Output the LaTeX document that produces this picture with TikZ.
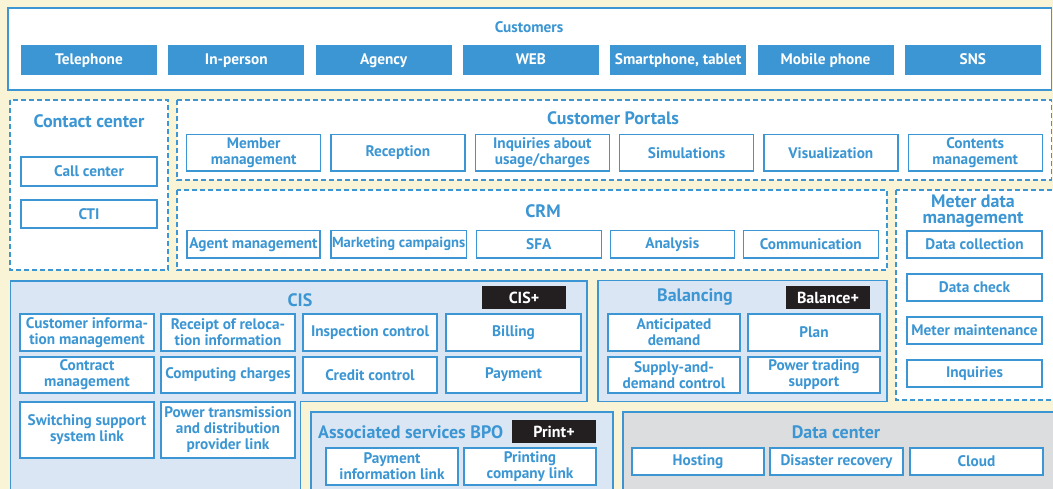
\documentclass[tikz,border=0pt]{standalone}
\usepackage{fontspec}
\setmainfont{PT Sans}
\usepackage{tikz}
\usepackage{xcolor}
\definecolor{cream}{RGB}{250,244,214}
\definecolor{line}{RGB}{59,150,211}
\definecolor{pale}{RGB}{219,230,244}
\definecolor{stone}{RGB}{220,221,223}
\definecolor{ink}{RGB}{35,31,32}
\usetikzlibrary{positioning}
\tikzstyle{Area} = [draw=line, line width=1.3pt]
\tikzstyle{Zone} = [Area, fill=white, dash pattern=on 5pt off 3pt]
\tikzstyle{Box} = [
draw=line, fill=white, line width=1.2pt, text=line,
align=center, inner sep=1pt, outer sep=0pt,
font=\fontsize{15.3}{16}\selectfont\bfseries]
\tikzstyle{Channel} = [
fill=line, text=white, minimum width=136pt, minimum height=30pt,
inner sep=1pt, outer sep=0pt, text height=11pt, text depth=2pt,
font=\fontsize{15.3}{16}\selectfont\bfseries]
\tikzstyle{Title} = [
text=line, align=center, inner sep=0pt,
font=\fontsize{18}{16.3}\selectfont\bfseries]
\tikzstyle{Tag} = [
fill=ink, text=white, minimum width=84pt, minimum height=23pt,
font=\fontsize{16}{16}\selectfont\bfseries]

\begin{document}
\begin{tikzpicture}[x=1pt, y=-1pt]
    \fill[cream] (0,0) rectangle (1053,489);
    \useasboundingbox (0,0) rectangle (1053,489);

    \draw[Area, fill=white] (8,8) rectangle (1051.5,90);
    \draw[Zone] (10,100) rectangle (168,270);
    \draw[Zone] (177,100) rectangle (1051.5,180);
    \draw[Zone] (177,190) rectangle (887,270);
    \draw[Zone] (896,190) rectangle (1060,400);
    \draw[Area, fill=pale] (10.5,281) -- (587,281) -- (587,401.5) -- (300.5,401.5)
        -- (300.5,495) -- (10.5,495) -- cycle;
    \draw[Area, fill=pale] (598,280.5) rectangle (887,401.5);
    \draw[Area, fill=pale] (311,412) rectangle (613,495);
    \draw[Area, fill=stone] (623,412) rectangle (1060,495);

    \node [Title, font=\fontsize{15.3}{16}\selectfont\bfseries] (cust) at (529,27) {Customers};
    \node [Channel] (c1) at (89,60) {Telephone};
    \node [Channel, right=11.3pt of c1] (c2) {In-person};
    \node [Channel, right=11.3pt of c2] (c3) {Agency};
    \node [Channel, right=11.3pt of c3] (c4) {WEB};
    \node [Channel, right=11.3pt of c4] (c5) {Smartphone, tablet};
    \node [Channel, right=11.3pt of c5] (c6) {Mobile phone};
    \node [Channel, right=11.3pt of c6] (c7) {SNS};

    \node [Title] (cont) at (89,121) {Contact center};
    \node [Box, minimum width=136pt, minimum height=29pt] (k1) at (89,171.5) {Call center};
    \node [Box, minimum width=136pt, minimum height=28pt, below=14pt of k1] (k2) {CTI};

    \node [Title] (port) at (613,118) {Customer Portals};
    \node [Box, minimum width=134pt, minimum height=36.5pt] (p1) at (253.7,152.75) {Member\\management};
    \node [Box, minimum width=134pt, minimum height=36.5pt, right=10.3pt of p1] (p2) {Reception};
    \node [Box, minimum width=134pt, minimum height=36.5pt, right=10.3pt of p2] (p3) {Inquiries about\\usage/charges};
    \node [Box, minimum width=134pt, minimum height=36.5pt, right=10.3pt of p3] (p4) {Simulations};
    \node [Box, minimum width=134pt, minimum height=36.5pt, right=10.3pt of p4] (p5) {Visualization};
    \node [Box, minimum width=134pt, minimum height=36.5pt, right=10.3pt of p5] (p6) {Contents\\management};

    \node [Title] (crm) at (543,211) {CRM};
    \node [Box, minimum width=133pt, minimum height=27.5pt] (r1) at (253.5,244.3) {Agent management};
    \node [Box, minimum width=135pt, minimum height=27.5pt, right=11pt of r1,
        font=\fontsize{14.6}{16}\selectfont\bfseries] (r2) {Marketing campaigns};
    \node [Box, minimum width=125pt, minimum height=27.5pt, right=10pt of r2] (r3) {SFA};
    \node [Box, minimum width=124pt, minimum height=27.5pt, right=9pt of r3] (r4) {Analysis};
    \node [Box, minimum width=135pt, minimum height=27.5pt, right=9pt of r4] (r5) {Communication};

    \node [Title] (mdm) at (973,211) {Meter data\\management};
    \node [Box, minimum width=135pt, minimum height=27pt] (m1) at (974.5,244.5) {Data collection};
    \node [Box, minimum width=135pt, minimum height=27pt, below=16pt of m1] (m2) {Data check};
    \node [Box, minimum width=135pt, minimum height=27pt, below=16pt of m2] (m3) {Meter maintenance};
    \node [Box, minimum width=135pt, minimum height=27pt, below=16pt of m3] (m4) {Inquiries};

    \node [Title] (cis) at (300,300) {CIS};
    \node [Tag] (cisp) at (524,297.5) {CIS+};
    \node [Box, minimum width=134pt, minimum height=37pt] (s1) at (87,332.5) {Customer informa-\\tion management};
    \node [Box, minimum width=134pt, minimum height=37pt] (s2) at (228,332.5) {Receipt of reloca-\\tion information};
    \node [Box, minimum width=134pt, minimum height=37pt] (s3) at (370,332.5) {Inspection control};
    \node [Box, minimum width=135pt, minimum height=37pt] (s4) at (513.5,332.5) {Billing};
    \node [Box, minimum width=134pt, minimum height=36pt] (s5) at (87,375) {Contract\\management};
    \node [Box, minimum width=134pt, minimum height=36pt] (s6) at (228,375) {Computing charges};
    \node [Box, minimum width=134pt, minimum height=36pt] (s7) at (370,375) {Credit control};
    \node [Box, minimum width=135pt, minimum height=36pt] (s8) at (513.5,375) {Payment};
    \node [Box, minimum width=134pt, minimum height=56pt] (s9) at (87,430) {Switching support\\system link};
    \node [Box, minimum width=134pt, minimum height=56pt] (s10) at (228,430) {Power transmission\\and distribution\\provider link};

    \node [Title] (bal) at (695,297) {Balancing};
    \node [Tag] (balp) at (828,297.5) {Balance+};
    \node [Box, minimum width=132pt, minimum height=37pt] (b1) at (674,332.5) {Anticipated\\demand};
    \node [Box, minimum width=132pt, minimum height=37pt] (b2) at (814,332.5) {Plan};
    \node [Box, minimum width=132pt, minimum height=36pt] (b3) at (674,375) {Supply-and-\\demand control};
    \node [Box, minimum width=132pt, minimum height=36pt] (b4) at (814,375) {Power trading\\support};

    \node [Title, anchor=west] (bpo) at (318,432) {Associated services BPO};
    \node [Tag] (prnp) at (554,431.5) {Print+};
    \node [Box, minimum width=132pt, minimum height=37pt] (a1) at (392,466.5) {Payment\\information link};
    \node [Box, minimum width=132pt, minimum height=37pt] (a2) at (530,466.5) {Printing\\company link};

    \node [Title] (dc) at (836,432) {Data center};
    \node [Box, minimum width=132pt, minimum height=27pt] (d1) at (698,461.5) {Hosting};
    \node [Box, minimum width=133pt, minimum height=27pt] (d2) at (836.5,461.5) {Disaster recovery};
    \node [Box, minimum width=133pt, minimum height=27pt] (d3) at (976.5,461.5) {Cloud};
\end{tikzpicture}
\end{document}
